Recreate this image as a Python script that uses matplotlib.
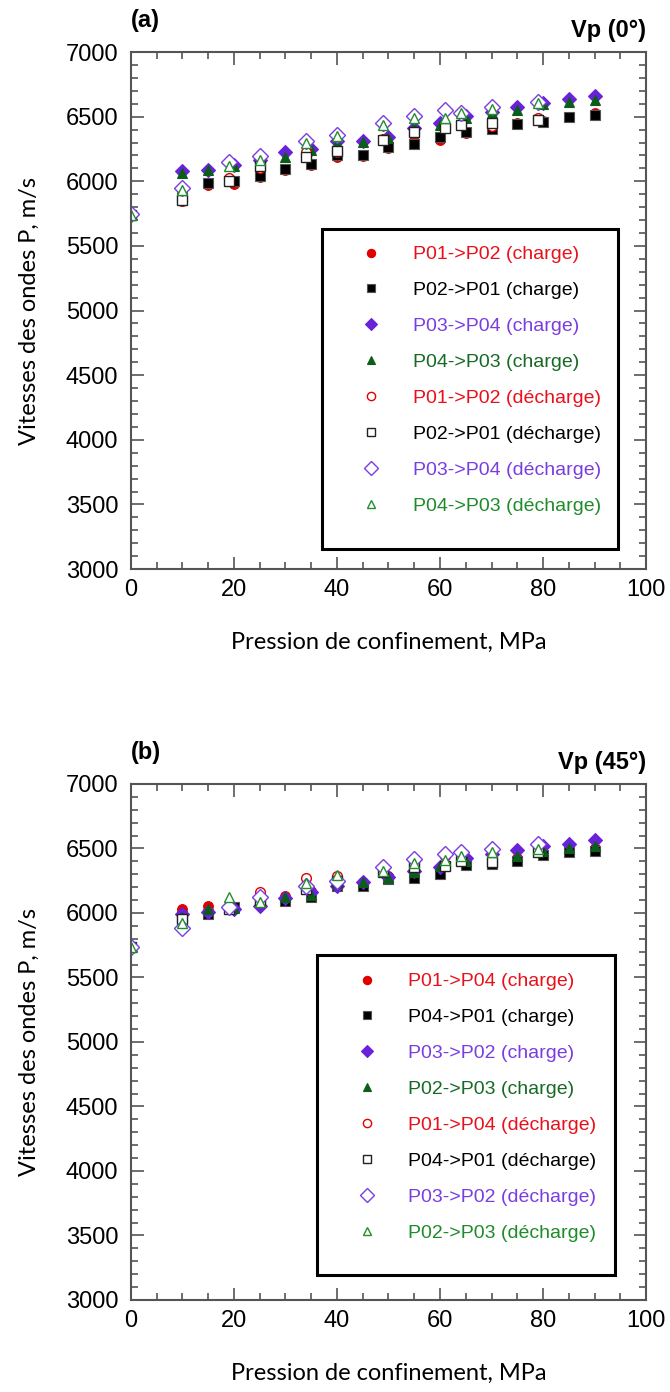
import matplotlib
matplotlib.use('Agg')
import matplotlib.pyplot as plt
from matplotlib.patches import Rectangle
from matplotlib.ticker import MultipleLocator

# pressions (MPa)
p_charge = [10, 15, 20, 25, 30, 35, 40, 45, 50, 55, 60, 65, 70, 75, 80, 85, 90]
p_decharge = [0, 10, 19, 25, 34, 40, 49, 55, 61, 64, 70, 79]

# (a) Vp (0°)
a_labels = ['P01->P02', 'P02->P01', 'P03->P04', 'P04->P03']
a_charge = [
    [5870, 5975, 5980, 6035, 6090, 6125, 6185, 6195, 6255, 6310, 6320, 6375, 6410, 6455, 6465, 6495, 6530],
    [5880, 5985, 6000, 6040, 6097, 6133, 6200, 6200, 6262, 6290, 6340, 6380, 6405, 6440, 6462, 6500, 6513],
    [6077, 6090, 6128, 6167, 6223, 6251, 6308, 6313, 6346, 6410, 6449, 6505, 6538, 6572, 6608, 6633, 6659],
    [6064, 6085, 6120, 6160, 6187, 6243, 6300, 6305, 6333, 6420, 6436, 6492, 6525, 6550, 6600, 6615, 6628],
]
a_decharge = [
    [5740, 5846, 6026, 6103, 6223, 6230, 6326, 6372, 6423, 6436, 6428, 6487],
    [5740, 5859, 6000, 6115, 6187, 6236, 6320, 6385, 6410, 6436, 6454, 6474],
    [5744, 5949, 6146, 6197, 6315, 6359, 6449, 6505, 6551, 6531, 6572, 6610],
    [5740, 5936, 6115, 6167, 6300, 6351, 6436, 6492, 6487, 6526, 6556, 6608],
]

# (b) Vp (45°)
b_labels = ['P01->P04', 'P04->P01', 'P03->P02', 'P02->P03']
b_charge = [
    [6031, 6057, 6040, 6070, 6135, 6170, 6260, 6240, 6290, 6300, 6340, 6400, 6420, 6430, 6460, 6480, 6500],
    [5980, 5995, 6049, 6082, 6095, 6120, 6210, 6210, 6260, 6270, 6300, 6370, 6380, 6405, 6450, 6469, 6482],
    [5992, 6010, 6031, 6057, 6116, 6160, 6211, 6237, 6276, 6327, 6353, 6430, 6461, 6487, 6520, 6533, 6564],
    [5972, 6031, 6040, 6090, 6126, 6142, 6230, 6237, 6270, 6314, 6366, 6405, 6443, 6440, 6482, 6500, 6520],
]
b_decharge = [
    [5735, 5940, 6040, 6160, 6270, 6290, 6322, 6380, 6443, 6456, 6482, 6508],
    [5735, 5950, 6031, 6100, 6186, 6250, 6314, 6353, 6366, 6405, 6392, 6469],
    [5735, 5884, 6049, 6121, 6211, 6250, 6353, 6418, 6456, 6469, 6495, 6533],
    [5735, 5920, 6121, 6083, 6230, 6296, 6327, 6384, 6410, 6443, 6469, 6495],
]

# style des séries : (marqueur, couleur marqueur, taille, couleur texte)
ch_style = [('o', '#e00000', 7, '#e8101a'),
            ('s', '#000000', 6.5, '#000000'),
            ('D', '#6a22d8', 7.5, '#7a3de0'),
            ('^', '#0b5e1a', 7.5, '#176a24')]
de_style = [('o', '#e00000', 7, '#e8101a'),
            ('s', '#222222', 7, '#000000'),
            ('D', '#7a3de0', 8.5, '#7a3de0'),
            ('^', '#1f8f2a', 7.5, '#1e8c2a')]

plt.rcParams['font.family'] = ['Liberation Sans', 'DejaVu Sans']
LABEL_FONT = 'Lato'


def panel(ax, labels, charge, decharge, box, anchor):
    handles = []
    texts = []
    for i in range(4):
        m, c, s, tc = ch_style[i]
        ec = '#555555' if m == 's' else c
        h, = ax.plot(p_charge, charge[i], linestyle='none', marker=m, markersize=s,
                     markerfacecolor=c, markeredgecolor=ec, markeredgewidth=0.8)
        handles.append(h)
        texts.append((labels[i] + ' (charge)', tc))
    for i in range(4):
        m, c, s, tc = de_style[i]
        h, = ax.plot(p_decharge, decharge[i], linestyle='none', marker=m, markersize=s,
                     markerfacecolor='white', markeredgecolor=c, markeredgewidth=1.0)
        handles.append(h)
        texts.append((labels[i] + ' (décharge)', tc))

    ax.set_xlim(0, 100)
    ax.set_ylim(3000, 7000)
    ax.xaxis.set_major_locator(MultipleLocator(20))
    ax.xaxis.set_minor_locator(MultipleLocator(5))
    ax.yaxis.set_major_locator(MultipleLocator(500))
    ax.yaxis.set_minor_locator(MultipleLocator(100))
    ax.tick_params(which='both', direction='in', top=True, right=True, color='#555555',
                   width=1.2, labelsize=17)
    ax.tick_params(which='major', length=9)
    ax.tick_params(which='minor', length=5)
    ax.tick_params(axis='x', pad=7)
    ax.tick_params(axis='y', pad=9)
    for sp in ax.spines.values():
        sp.set_color('#555555')
        sp.set_linewidth(1.5)

    ax.set_xlabel('Pression de confinement, MPa', fontsize=17, family=LABEL_FONT)
    ax.set_ylabel('Vitesses des ondes P, m/s', fontsize=17, family=LABEL_FONT)
    ax.xaxis.set_label_coords(0.5, -0.122)
    ax.yaxis.set_label_coords(-0.177, 0.5)

    # cadre de la légende
    x0, y0, x1, y1 = box
    ax.add_patch(Rectangle((x0, y0), x1 - x0, y1 - y0, transform=ax.transAxes,
                           fill=False, edgecolor='black', linewidth=2.2, zorder=5))
    leg = ax.legend(handles, [t[0] for t in texts], loc='upper left', bbox_to_anchor=anchor,
                    frameon=False, borderpad=0, handlelength=2.0, handletextpad=1.15,
                    labelspacing=0.94, markerscale=0.85,
                    prop={'family': 'Liberation Sans', 'size': 14})
    for txt, (_, col) in zip(leg.get_texts(), texts):
        txt.set_color(col)


fig = plt.figure(figsize=(6.7, 13.92), dpi=100)
ax1 = fig.add_axes([0.1955, 0.5912, 0.7687, 0.3714])
ax2 = fig.add_axes([0.1955, 0.0661, 0.7687, 0.3707])

panel(ax1, a_labels, a_charge, a_decharge, (0.371, 0.0387, 0.9456, 0.6576), (0.409, 0.6441))
panel(ax2, b_labels, b_charge, b_decharge, (0.3606, 0.0484, 0.9398, 0.6686), (0.401, 0.6531))

fig.text(131 / 670, 1 - 21 / 1392, '(a)', fontsize=17, fontweight='bold',
         ha='left', va='center')
fig.text(646 / 670, 1 - 31 / 1392, 'Vp (0°)', fontsize=17, fontweight='bold',
         ha='right', va='center')
fig.text(131 / 670, 1 - 752 / 1392, '(b)', fontsize=17, fontweight='bold',
         ha='left', va='center')
fig.text(646 / 670, 1 - 762 / 1392, 'Vp (45°)', fontsize=17, fontweight='bold',
         ha='right', va='center')

fig.savefig('out.png', dpi=100)
